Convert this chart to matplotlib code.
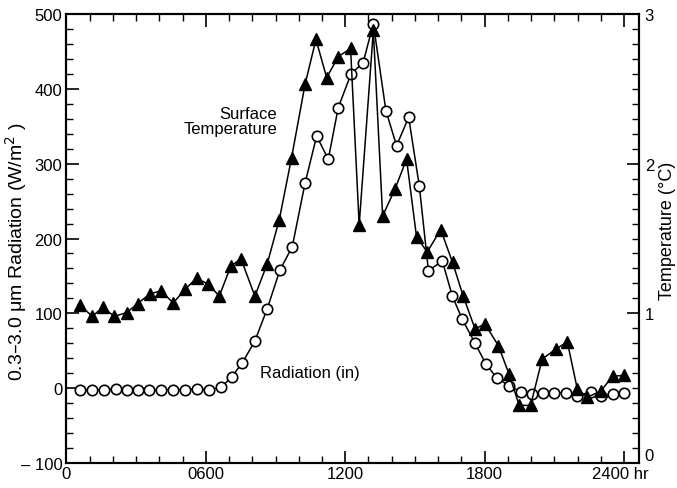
import matplotlib
matplotlib.use('Agg')
import matplotlib.pyplot as plt
from matplotlib.ticker import MultipleLocator, FixedLocator

plt.rcParams['font.family'] = ['Liberation Sans', 'DejaVu Sans']

# Radiation (in), W/m^2, left axis
rad_hr = [58, 111, 163, 212, 259, 306, 357, 405, 460, 510, 560, 613, 665, 711,
          757, 811, 864, 919, 972, 1027, 1077, 1127, 1170, 1225, 1277, 1321,
          1375, 1421, 1473, 1519, 1558, 1618, 1661, 1704, 1759, 1806, 1852,
          1905, 1957, 2005, 2053, 2100, 2149, 2199, 2258, 2301, 2351, 2400]
rad_val = [-2, -2, -2, -1, -2, -2, -3, -2, -2, -2, -1, -2, 1, 15,
           34, 63, 106, 158, 189, 274, 337, 306, 375, 420, 435, 487,
           371, 324, 362, 270, 157, 170, 123, 92, 60, 32, 14,
           3, -5, -8, -6, -6, -6, -10, -5, -11, -8, -7]

# Surface temperature, deg C, right axis
temp_hr = [58, 111, 156, 206, 259, 306, 359, 405, 460, 510, 560, 610, 658, 707,
           751, 811, 864, 916, 969, 1027, 1074, 1120, 1170, 1223, 1260, 1321,
           1361, 1414, 1464, 1507, 1553, 1611, 1662, 1708, 1759, 1801, 1859,
           1905, 1949, 1998, 2048, 2106, 2156, 2199, 2242, 2300, 2351, 2400]
temp_val = [1.055, 0.98, 1.04, 0.98, 1.005, 1.065, 1.13, 1.15, 1.07, 1.16, 1.235,
            1.195, 1.115, 1.315, 1.365, 1.115, 1.33, 1.625, 2.04, 2.53, 2.83,
            2.575, 2.715, 2.77, 1.59, 2.89, 1.65, 1.83, 2.03, 1.51, 1.41, 1.56,
            1.34, 1.115, 0.895, 0.93, 0.785, 0.595, 0.385, 0.385, 0.695, 0.76,
            0.81, 0.495, 0.44, 0.48, 0.58, 0.585]

x_ticks = [0, 600, 1200, 1800, 2400]
x_labels = ['0', '0600', '1200', '1800', '']
y_ticks = [-100, 0, 100, 200, 300, 400, 500]
y_labels = ['\u2013 100', '0', '100', '200', '300', '400', '500']

fig = plt.figure(figsize=(6.77, 4.89), dpi=100)
ax = fig.add_axes([0.0982, 0.0511, 0.8458, 0.9182])
ax2 = ax.twinx()

ax.plot(rad_hr, rad_val, '-o', color='black', markerfacecolor='white',
        markeredgecolor='black', markersize=7.5, markeredgewidth=1.2,
        linewidth=1.1, zorder=3)
ax2.plot(temp_hr, temp_val, '-^', color='black', markersize=8,
         linewidth=1.1, zorder=3)

ax.set_xlim(0, 2465)
ax.set_ylim(-100, 500)
ax2.set_ylim(0, 3)

ax.set_xticks(x_ticks)
ax.set_xticklabels(x_labels)
ax.xaxis.set_minor_locator(MultipleLocator(100))
ax.set_yticks(y_ticks)
ax.set_yticklabels(y_labels)
ax.yaxis.set_minor_locator(MultipleLocator(20))

ax2.yaxis.set_major_locator(FixedLocator([0, 1, 2, 3]))
ax2.yaxis.set_minor_locator(MultipleLocator(0.1))

ax.tick_params(axis='both', which='major', direction='in', length=9,
               width=1.2, labelsize=12, top=True)
ax.tick_params(axis='both', which='minor', direction='in', length=5,
               width=1.0, top=True)
ax.tick_params(axis='x', which='major', pad=2)
ax.tick_params(axis='y', which='major', pad=3)
ax2.tick_params(axis='y', which='major', direction='in', length=9,
                width=1.2, labelsize=12, pad=4)
ax2.tick_params(axis='y', which='minor', direction='in', length=5, width=1.0)

# right-hand "0" sits above the bottom edge, leaving room for "2400 hr"
ax2.get_yticklabels()[0].set_verticalalignment('bottom')

for a in (ax, ax2):
    for s in a.spines.values():
        s.set_linewidth(1.5)

# last x label with unit
ax.text(2385, -104, '2400 hr', ha='center', va='top', fontsize=12)

ax.set_ylabel('0.3\u20133.0 \u03bcm Radiation (W/m$^2$ )', fontsize=14)
ax.yaxis.set_label_coords(-0.066, 0.472)
ax2.set_ylabel('Temperature (\u00b0C)', fontsize=13)
ax2.yaxis.set_label_coords(1.034, 0.52)

ax.text(906, 357, 'Surface\nTemperature', ha='right', va='center',
        fontsize=12, linespacing=1.05)
ax.text(835, 21, 'Radiation (in)', ha='left', va='center', fontsize=12)

fig.savefig('out.png', dpi=100)
